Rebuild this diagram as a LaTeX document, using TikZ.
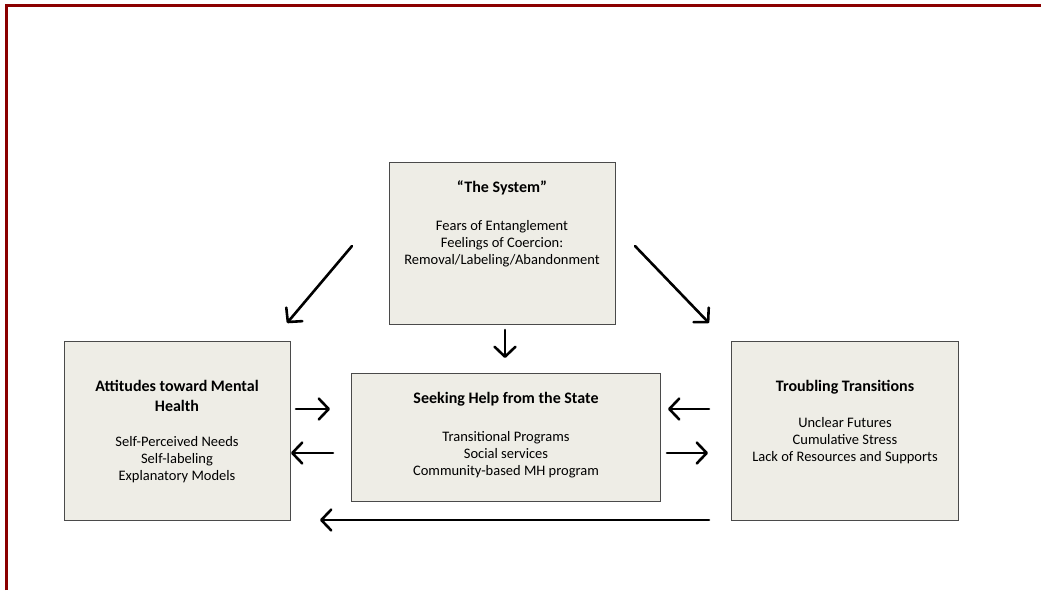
\documentclass[tikz,border=0pt]{standalone}
\usepackage{fontspec}
\setmainfont{Carlito}
\usetikzlibrary{arrows.meta,calc}
\definecolor{frame}{HTML}{8B0000}
\definecolor{boxfill}{HTML}{EEEDE6}
\definecolor{boxline}{HTML}{4A4A4A}
\tikzset{
  x=1pt, y=-1pt,
  box/.style={draw=boxline, fill=boxfill, line width=1.3pt, anchor=north west, inner sep=0pt},
  body/.style={anchor=center, align=center, inner sep=0pt, font=\fontsize{14.5}{17.2}\selectfont},
  title/.style={anchor=center, align=center, inner sep=0pt, font=\bfseries\fontsize{16}{20}\selectfont},
  conn/.style={line width=2.6pt, line cap=round, -{Straight Barb[length=10pt,width=21pt,round]}},
}
\begin{document}
\begin{tikzpicture}
\useasboundingbox (0,0) rectangle (1041,590);
% frame
\draw[frame, line width=3pt] (6.5,590) -- (6.5,5.5) -- (1041,5.5);
% boxes
\node[box, minimum width=226pt, minimum height=162pt] (sys) at (389,162) {};
\node[box, minimum width=226pt, minimum height=179pt] (att) at (64,341) {};
\node[box, minimum width=309pt, minimum height=128pt] (seek) at (351,373) {};
\node[box, minimum width=227pt, minimum height=179pt] (trans) at (731,341) {};
% texts
\node[title] (systtl) at (502,188) {``The System''};
\node[body] (sysbody) at (502,243.5) {Fears of Entanglement\\Feelings of Coercion:\\Removal/Labeling/Abandonment};
\node[title] (attttl) at (177,396) {Attitudes toward Mental\\Health};
\node[body] (attbody) at (177,459.5) {Self-Perceived Needs\\Self-labeling\\Explanatory Models};
\node[title] (seekttl) at (506,399) {Seeking Help from the State};
\node[body] (seekbody) at (506,454.5) {Transitional Programs\\Social services\\Community-based MH program};
\node[title] (transttl) at (845,387) {Troubling Transitions};
\node[body] (transbody) at (845,440.5) {Unclear Futures\\Cumulative Stress\\Lack of Resources and Supports};
% connector end points
\coordinate (a1s) at (352,246); \coordinate (a1e) at (287,323);
\coordinate (a2s) at (635,246); \coordinate (a2e) at (709,323);
\coordinate (a3s) at (505,330); \coordinate (a3e) at (505,358);
\coordinate (a4s) at (296,409); \coordinate (a4e) at (330,409);
\coordinate (a5s) at (333,453); \coordinate (a5e) at (291,453);
\coordinate (a6s) at (709,409); \coordinate (a6e) at (668,409);
\coordinate (a7s) at (667,453); \coordinate (a7e) at (708,453);
\coordinate (a8s) at (709,520); \coordinate (a8e) at (320,520);
\draw[conn] (a1s) -- (a1e);
\draw[conn] (a2s) -- (a2e);
\draw[conn] (a3s) -- (a3e);
\draw[conn] (a4s) -- (a4e);
\draw[conn] (a5s) -- (a5e);
\draw[conn] (a6s) -- (a6e);
\draw[conn] (a7s) -- (a7e);
\draw[conn] (a8s) -- (a8e);
\end{tikzpicture}
\end{document}
